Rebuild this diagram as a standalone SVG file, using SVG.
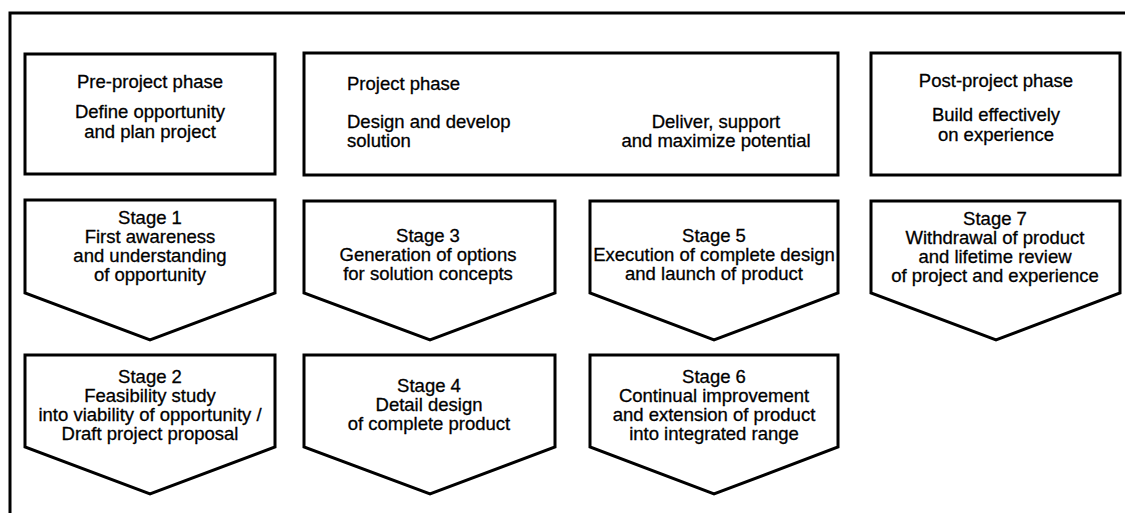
<svg xmlns="http://www.w3.org/2000/svg" width="1125" height="513" viewBox="0 0 1125 513">
<style>
.s{fill:#fff;stroke:#000;stroke-width:3;stroke-linejoin:miter}
.t{font-family:"Liberation Sans",Arial,sans-serif;font-size:18.5px;fill:#000;stroke:#000;stroke-width:0.3}
.c{text-anchor:middle}
</style>
<rect width="1125" height="513" fill="#fff"/>
<g id="frame"><path d="M10,513 V13 H1125" fill="none" stroke="#000" stroke-width="3"/></g>
<g id="connectors"/>
<g id="pre-project">
<rect class="s" x="25" y="54" width="250" height="120"/>
<text class="t c" x="150" y="88">Pre-project phase</text>
<text class="t c" x="150" y="118">Define opportunity</text>
<text class="t c" x="150" y="138">and plan project</text>
</g>
<g id="project">
<rect class="s" x="304" y="53" width="534" height="122"/>
<text class="t" x="347" y="90">Project phase</text>
<text class="t" x="347" y="128">Design and develop</text>
<text class="t" x="347" y="147">solution</text>
<text class="t c" x="716" y="128">Deliver, support</text>
<text class="t c" x="716" y="147">and maximize potential</text>
</g>
<g id="post-project">
<rect class="s" x="871" y="53" width="249" height="122"/>
<text class="t c" x="996" y="87">Post-project phase</text>
<text class="t c" x="996" y="121">Build effectively</text>
<text class="t c" x="996" y="141">on experience</text>
</g>
<g id="stage1">
<polygon class="s" points="25,200 275,200 275,293 150,340 25,293"/>
<text class="t c" x="150" y="224">Stage 1</text>
<text class="t c" x="150" y="243">First awareness</text>
<text class="t c" x="150" y="262">and understanding</text>
<text class="t c" x="150" y="281">of opportunity</text>
</g>
<g id="stage2">
<polygon class="s" points="25,355 275,355 275,447 150,494 25,447"/>
<text class="t c" x="150" y="383">Stage 2</text>
<text class="t c" x="150" y="402">Feasibility study</text>
<text class="t c" x="150" y="421">into viability of opportunity /</text>
<text class="t c" x="150" y="440">Draft project proposal</text>
</g>
<g id="stage3">
<polygon class="s" points="304,201 555,201 555,293 430,340 304,293"/>
<text class="t c" x="428" y="242">Stage 3</text>
<text class="t c" x="428" y="261">Generation of options</text>
<text class="t c" x="428" y="280">for solution concepts</text>
</g>
<g id="stage4">
<polygon class="s" points="304,355 555,355 555,447 430,494 304,447"/>
<text class="t c" x="429" y="392">Stage 4</text>
<text class="t c" x="429" y="411">Detail design</text>
<text class="t c" x="429" y="430">of complete product</text>
</g>
<g id="stage5">
<polygon class="s" points="590,201 838,201 838,293 714,340 590,293"/>
<text class="t c" x="714" y="242">Stage 5</text>
<text class="t c" x="714" y="261">Execution of complete design</text>
<text class="t c" x="714" y="280">and launch of product</text>
</g>
<g id="stage6">
<polygon class="s" points="590,355 838,355 838,447 714,494 590,447"/>
<text class="t c" x="714" y="383">Stage 6</text>
<text class="t c" x="714" y="402">Continual improvement</text>
<text class="t c" x="714" y="421">and extension of product</text>
<text class="t c" x="714" y="440">into integrated range</text>
</g>
<g id="stage7">
<polygon class="s" points="871,201 1120,201 1120,293 996,340 871,293"/>
<text class="t c" x="995" y="225">Stage 7</text>
<text class="t c" x="995" y="244">Withdrawal of product</text>
<text class="t c" x="995" y="263">and lifetime review</text>
<text class="t c" x="995" y="282">of project and experience</text>
</g>
</svg>
